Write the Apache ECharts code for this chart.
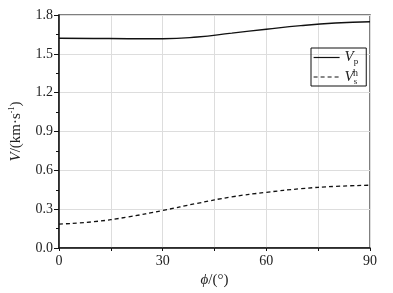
<!DOCTYPE html>
<html>
<head>
<meta charset="utf-8">
<script src="https://cdn.jsdelivr.net/npm/echarts@6/dist/echarts.min.js"></script>
<style>
  html, body { margin: 0; padding: 0; background: #fff; }
  #chart { width: 393px; height: 293px; }
</style>
</head>
<body>
<div id="chart"></div>
<script>
// angle phi in degrees
var phiValues = [0, 10, 20, 30, 40, 50, 60, 70, 80, 90];
// velocities, km/s
var vpValues = [1.620, 1.619, 1.617, 1.617, 1.630, 1.660, 1.690, 1.718, 1.738, 1.748];
var vshValues = [0.185, 0.203, 0.240, 0.290, 0.345, 0.395, 0.430, 0.458, 0.476, 0.485];
var xTickLabels = [0, 30, 60, 90];

var serif = 'Liberation Serif';

function pairs(xs, ys) {
  return xs.map(function (x, i) { return [x, ys[i]]; });
}

var chart = echarts.init(document.getElementById('chart'));
var option = {
  animation: false,
  textStyle: { fontFamily: serif },
  grid: {
    left: 56, right: 23, top: 15, bottom: 45,
    show: true, borderColor: '#555', borderWidth: 1.5
  },
  xAxis: {
    type: 'value', min: 0, max: 90, interval: 15,
    name: '{i|ϕ}{n|/(°)}',
    nameLocation: 'middle', nameGap: 22,
    nameTextStyle: {
      rich: {
        i: { fontFamily: serif, fontStyle: 'italic', fontSize: 15, color: '#222' },
        n: { fontFamily: serif, fontSize: 15, color: '#222' }
      }
    },
    axisLine: { lineStyle: { color: '#111', width: 1.5 } },
    axisTick: { length: 3, lineStyle: { color: '#111' } },
    axisLabel: {
      fontFamily: serif, fontSize: 14, color: '#222', margin: 6,
      formatter: function (v) { return xTickLabels.indexOf(v) >= 0 ? String(v) : ''; }
    },
    splitLine: { show: true, lineStyle: { color: '#ddd', width: 1 } }
  },
  yAxis: {
    type: 'value', min: 0, max: 1.8, interval: 0.3,
    name: '{i|V}{n|/(km·s}{sup|-1}{n|)}',
    nameLocation: 'middle', nameGap: 35, nameRotate: 90,
    nameTextStyle: {
      rich: {
        i: { fontFamily: serif, fontStyle: 'italic', fontSize: 15, color: '#222' },
        n: { fontFamily: serif, fontSize: 15, color: '#222' },
        sup: { fontFamily: serif, fontSize: 8, color: '#222', verticalAlign: 'top', padding: [0, 0, 8, 0] }
      }
    },
    axisLine: { show: true, lineStyle: { color: '#111', width: 1.5 } },
    axisTick: { length: 5, lineStyle: { color: '#111' } },
    minorTick: { show: true, splitNumber: 2, length: 3, lineStyle: { color: '#111' } },
    axisLabel: {
      fontFamily: serif, fontSize: 14, color: '#222', margin: 6,
      formatter: function (v) { return v.toFixed(1); }
    },
    splitLine: { show: true, lineStyle: { color: '#ddd', width: 1 } }
  },
  legend: {
    orient: 'vertical', left: 311, top: 48,
    borderColor: '#111', borderWidth: 1,
    padding: [2, 8, 0, 2], itemGap: 3,
    itemWidth: 26, itemHeight: 12,
    itemStyle: { opacity: 0 },
    lineStyle: { width: 1.2 },
    data: ['Vp', 'Vsh'],
    formatter: function (name) {
      return name === 'Vp' ? '{v|V}{s|p}' : '{v|V}{s|s}';
    },
    textStyle: {
      rich: {
        v: { fontFamily: serif, fontStyle: 'italic', fontSize: 15, color: '#222' },
        s: { fontFamily: serif, fontSize: 9, color: '#222', verticalAlign: 'bottom', padding: [9, 0, 0, 0] }
      }
    }
  },
  graphic: [{
    type: 'text', left: 353, top: 68,
    style: { text: 'h', font: '10px "Liberation Serif"', fill: '#222' }
  }],
  series: [
    {
      name: 'Vp', type: 'line', smooth: true, symbol: 'none',
      data: pairs(phiValues, vpValues),
      lineStyle: { color: '#111', width: 1.4 },
      itemStyle: { color: '#111' }
    },
    {
      name: 'Vsh', type: 'line', smooth: true, symbol: 'none',
      data: pairs(phiValues, vshValues),
      lineStyle: { color: '#111', width: 1.3, type: [4, 3] },
      itemStyle: { color: '#111' }
    }
  ]
};
chart.setOption(option);
</script>
</body>
</html>
